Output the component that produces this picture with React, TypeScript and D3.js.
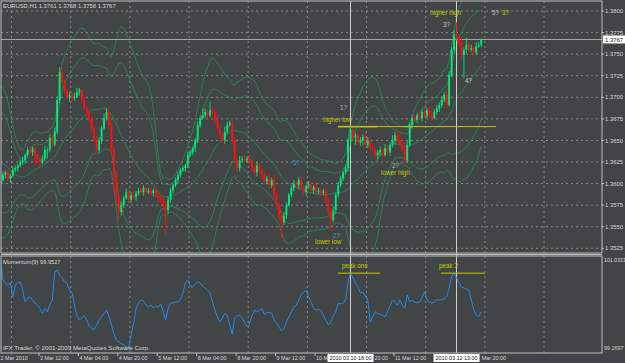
import React from "react";
import * as d3 from "d3";

const W = 625;
const H = 363;
const BASE = 1.35;

// closes before the first visible bar (2 Mar 2010 01:00-19:00), pips above 1.3500
const historyPips = [150, 160, 168, 175, 170, 160, 150, 140, 130, 120, 110, 100, 95, 92, 98, 94, 100, 102, 99];
// hourly closes from 2 Mar 2010 20:00, pips above 1.3500
const closePips = [
  104, 110, 113, 106, 109, 116, 118, 121, 125, 127,
  133, 139, 136, 141, 133, 127, 124, 129, 139, 139,
  153, 145, 160, 197, 229, 218, 206, 200, 203, 199,
  201, 206, 208, 197, 187, 182, 174, 164, 150, 139,
  150, 164, 176, 183, 168, 139, 110, 81, 67, 75,
  83, 90, 81, 87, 84, 89, 92, 90, 95, 90,
  92, 89, 92, 87, 83, 81, 75, 69, 81, 92,
  98, 104, 110, 116, 118, 121, 133, 136, 141, 150,
  168, 176, 179, 183, 179, 185, 182, 174, 164, 156,
  150, 160, 168, 171, 150, 127, 118, 127, 129, 127,
  129, 125, 118, 113, 121, 116, 110, 102, 106, 98,
  104, 87, 75, 63, 55, 63, 75, 87, 95, 100,
  98, 104, 95, 90, 97, 99, 92, 96, 90, 92,
  89, 91, 81, 67, 58, 69, 87, 98, 106, 113,
  118, 150, 162, 153, 156, 148, 150, 154, 145, 150,
  141, 139, 133, 136, 139, 133, 141, 136, 145, 150,
  156, 150, 145, 139, 127, 145, 168, 176, 174, 179,
  176, 183, 179, 185, 181, 176, 183, 187, 191, 197,
  203, 191, 226, 255, 272, 269, 264, 249, 255, 261,
  255, 257, 252, 259, 261, 267,
];
const wickUpPips = [
  3, 4, 2, 3, 2, 4, 3, 2, 3, 4,
  2, 3, 4, 2, 3, 2, 3, 4, 5, 3,
  4, 3, 5, 4, 6, 5, 3, 4, 3, 2,
  4, 5, 3, 2, 4, 3, 2, 4, 3, 5,
  4, 3, 5, 4, 6, 3, 4, 5, 8, 4,
  3, 4, 2, 3, 4, 2, 3, 4, 3, 2,
  3, 4, 2, 3, 2, 4, 3, 5, 4, 3,
  2, 3, 4, 2, 3, 2, 4, 3, 2, 3,
  4, 3, 8, 4, 3, 10, 4, 3, 5, 4,
  3, 6, 4, 2, 3, 4, 3, 5, 3, 4,
  3, 4, 2, 3, 4, 3, 2, 4, 3, 5,
  3, 6, 4, 3, 5, 4, 3, 2, 3, 4,
  3, 4, 5, 3, 2, 4, 3, 2, 4, 3,
  2, 3, 4, 3, 5, 4, 3, 4, 3, 2,
  4, 3, 5, 4, 3, 6, 4, 3, 5, 4,
  3, 4, 2, 3, 4, 3, 5, 4, 3, 6,
  4, 5, 8, 6, 10, 4, 3, 4, 5, 3,
  4, 3, 5, 3, 4, 6, 3, 4, 3, 4,
  3, 5, 4, 3, 6, 15, 4, 6, 3, 8,
  3, 4, 3, 5, 3, 1,
];
const wickDnPips = [
  3, 2, 4, 3, 5, 2, 3, 4, 2, 3,
  4, 3, 2, 4, 12, 3, 4, 2, 3, 10,
  3, 4, 2, 3, 4, 3, 4, 2, 5, 3,
  3, 2, 4, 3, 2, 5, 3, 4, 3, 2,
  3, 4, 2, 3, 4, 5, 20, 6, 8, 4,
  3, 2, 4, 3, 2, 4, 3, 2, 4, 3,
  2, 3, 4, 3, 5, 4, 6, 28, 4, 3,
  3, 2, 4, 3, 2, 4, 3, 2, 3, 4,
  3, 4, 2, 3, 4, 2, 3, 4, 3, 5,
  3, 4, 3, 2, 4, 3, 5, 4, 3, 2,
  3, 2, 4, 3, 5, 3, 4, 2, 3, 4,
  3, 4, 5, 6, 18, 3, 4, 2, 3, 4,
  3, 4, 2, 3, 4, 3, 2, 4, 3, 2,
  4, 3, 5, 4, 12, 3, 4, 3, 2, 3,
  3, 4, 6, 4, 8, 3, 4, 5, 3, 4,
  3, 4, 3, 5, 4, 3, 2, 3, 4, 3,
  4, 3, 2, 3, 4, 3, 2, 4, 3, 4,
  3, 4, 2, 3, 4, 3, 2, 3, 4, 3,
  3, 4, 2, 3, 4, 3, 5, 4, 27, 4,
  3, 2, 4, 3, 2, 3,
];
// Momentum(9)
const momentum = [
  100.96, 100.57, 100.51, 100.47, 100.51, 100.24, 100.47, 100.51, 100.53, 100.37,
  100.14, 100.22, 100.24, 100.18, 100.12, 100.08, 100.02, 99.92, 100.02, 99.95,
  100.08, 100.18, 100.72, 100.76, 100.66, 100.61, 100.53, 100.51, 100.37, 100.33,
  100.08, 99.87, 99.79, 99.83, 99.87, 99.79, 99.67, 99.63, 99.6, 99.69,
  99.79, 99.85, 99.92, 99.98, 99.87, 99.69, 99.52, 99.4, 99.36, 99.33,
  99.31, 99.27, 99.25, 99.5, 99.73, 100.02, 100.12, 100.18, 100.16, 100.08,
  100.04, 100.08, 100.02, 100.06, 100.04, 100.1, 99.95, 99.79, 100.02, 100.12,
  100.12, 100.14, 100.14, 100.18, 100.32, 100.51, 100.57, 100.45, 100.43, 100.49,
  100.53, 100.51, 100.45, 100.41, 100.37, 100.32, 100.14, 99.98, 99.85, 99.75,
  99.83, 99.92, 99.88, 99.69, 99.52, 99.83, 99.88, 99.87, 99.83, 99.75,
  99.66, 99.71, 99.87, 99.98, 99.95, 99.98, 100.02, 99.9, 99.94, 99.94,
  99.92, 99.79, 99.73, 99.66, 99.58, 99.63, 99.75, 99.85, 99.95, 100.04,
  100.08, 100.18, 100.28, 100.34, 100.36, 100.24, 100.14, 100.02, 99.98, 100.0,
  99.98, 99.88, 99.79, 99.69, 99.75, 99.87, 99.95, 100.12, 100.1, 100.12,
  100.18, 100.53, 100.7, 100.61, 100.51, 100.43, 100.32, 100.33, 100.26, 100.18,
  99.75, 99.85, 99.95, 99.92, 99.9, 99.88, 99.85, 99.95, 100.06, 100.18,
  100.14, 100.08, 100.18, 100.08, 100.02, 100.28, 100.14, 100.18, 100.14, 100.12,
  100.14, 100.22, 100.34, 100.18, 100.14, 100.12, 100.14, 100.18, 100.18, 100.18,
  100.2, 100.24, 100.41, 100.63, 100.7, 100.61, 100.51, 100.43, 100.41, 100.39,
  100.37, 100.18, 99.98, 99.88, 99.86, 99.95,
];

const priceTicks = [1.38, 1.3775, 1.375, 1.3725, 1.37, 1.3675, 1.365, 1.3625, 1.36, 1.3575, 1.355, 1.3525];
// time labels as they appear (parts hidden under the cursor boxes are not drawn)
const timeLabelIdx = [0, 16, 32, 48, 64, 80, 96, 112, 128, 144, 160, 192];
const timeLabelText = [
  "2 Mar 2010", "3 Mar 12:00", "4 Mar 04:00", "4 Mar 20:00", "5 Mar 12:00", "8 Mar 04:00",
  "8 Mar 20:00", "9 Mar 12:00", "10 M", "20:00", "11 Mar 12:00", "Mar 20:00",
];
const timeLabelShift = [0, 0, 0, 0, 0, 0, 0, 0, 0, 19, 0, 8];
const gridIdx = [4.5, 28.5, 52.5, 76.5, 100.5, 124.5, 148.5, 172.5, 196.5, 220.5];
const markerIdx = [142, 185];
const markerText = ["2010.03.10 18:00", "2010.03.12 13:00"];
const lastPrice = 1.3767;
const supportPrice = 1.3666;
const momTop = 101.0333;
const momBottom = 99.1697;
const momLabel = "Momentum(9) 99.9527";
const header = "EURUSD,H1  1.3761 1.3768 1.3758 1.3767";

// annotations: [text, color, bar index, price]
const priceNotes: [string, string, number, number][] = [
  ["higher high", "#c8c800", 174.2, 1.37948],
  ["3?", "#c8c8c8", 179.5, 1.3782],
  ["5?", "#c8c8c8", 199.4, 1.37959],
  ["3?", "#c8c800", 203.4, 1.37959],
  ["4?", "#c8c8c8", 188.4, 1.37166],
  ["1?", "#b0b0b0", 137.7, 1.36847],
  ["higher low", "#c8c800", 130.8, 1.36708],
  ["2?", "#b0b0b0", 158.8, 1.36185],
  ["lower high", "#c8c800", 154.4, 1.36095],
  ["5?", "#30a0c8", 118.7, 1.36215],
  ["2?", "#30a0c8", 134.9, 1.35364],
  ["lower low", "#c8c800", 127.6, 1.353],
];
const momNotes: [string, number, number][] = [
  ["peak one", 138.5, 100.8],
  ["peak 2", 177.9, 100.8],
];
const momLines: [number, number, number][] = [
  [136.9, 154, 100.7],
  [178.7, 196.5, 100.7],
];

const BG = "#414545";
const FRAME = "#c0c0c0";
const GRID = "#9a9a9a";
const TXT = "#d8d8d8";
const BULL = "#00e878";
const BEAR = "#ff1010";
const BAND = "#2f8a5a";
const FONT = "'Liberation Sans', Arial, sans-serif";

export default function App() {
  const x = d3.scaleLinear().domain([0, 195]).range([0.5, 0.5 + 195 * 2.465]);
  const y = d3.scaleLinear().domain([1.3525, 1.38]).range([248.3, 11]);
  const ym = d3.scaleLinear().domain([momBottom, momTop]).range([352, 256]);
  const toP = (v: number) => BASE + v / 10000;

  const all = [...historyPips, ...closePips].map(toP);
  const off = historyPips.length;
  const bars = closePips.map((c, i) => {
    const close = toP(c);
    const open = all[off + i - 1];
    const high = Math.max(open, close) + wickUpPips[i] / 10000;
    const low = Math.min(open, close) - wickDnPips[i] / 10000;
    return { i, open, close, high, low };
  });

  const bands = closePips.map((_, i) => {
    const win = all.slice(off + i - 19, off + i + 1);
    const m = d3.mean(win) as number;
    const sd = Math.sqrt(d3.mean(win.map((v) => (v - m) * (v - m))) as number);
    return { i, m, sd };
  });
  const bandLine = (k: number) =>
    d3
      .line<{ i: number; m: number; sd: number }>()
      .x((d) => x(d.i))
      .y((d) => y(d.m + k * d.sd))(bands) as string;

  const momPath = d3
    .line<number>()
    .x((_, i) => x(i))
    .y((d) => ym(d))(momentum) as string;

  const plotR = 602;
  const mainTop = 1;
  const mainBot = 253;
  const momTopY = 256;
  const momBotY = 353;

  return (
    <svg
      width={W}
      height={H}
      style={{ position: "absolute", left: 0, top: 0, display: "block" }}
      fontFamily={FONT}
    >
      <rect x={0} y={0} width={W} height={H} fill={BG} />
      <defs>
        <clipPath id="mainClip">
          <rect x={1} y={mainTop} width={plotR - 1} height={mainBot - mainTop} />
        </clipPath>
        <clipPath id="momClip">
          <rect x={1} y={momTopY} width={plotR - 1} height={momBotY - momTopY} />
        </clipPath>
      </defs>

      {/* grid */}
      {gridIdx.map((g) => (
        <g key={"g" + g}>
          <line x1={x(g)} x2={x(g)} y1={mainTop} y2={mainBot} stroke={GRID} strokeWidth={0.8} strokeDasharray="2,3" />
          <line x1={x(g)} x2={x(g)} y1={momTopY} y2={momBotY} stroke={GRID} strokeWidth={0.8} strokeDasharray="2,3" />
        </g>
      ))}
      {priceTicks.map((p) => (
        <line key={"h" + p} x1={1} x2={plotR} y1={y(p)} y2={y(p)} stroke={GRID} strokeWidth={0.8} strokeDasharray="2,3" />
      ))}

      {/* Bollinger bands */}
      <g clipPath="url(#mainClip)" fill="none" stroke={BAND} strokeWidth={0.9} opacity={0.9}>
        {[-3, -2, 0, 2, 3].map((k) => (
          <path key={"b" + k} d={bandLine(k)} />
        ))}
      </g>

      {/* crosshair lines */}
      <line x1={1} x2={plotR} y1={y(lastPrice)} y2={y(lastPrice)} stroke="#a8a8a8" strokeWidth={1} />
      {markerIdx.map((m) => (
        <line key={"m" + m} x1={x(m)} x2={x(m)} y1={mainTop} y2={momBotY} stroke="#d0d0d0" strokeWidth={1} />
      ))}

      {/* candles */}
      <g clipPath="url(#mainClip)">
        {bars.map((b) => {
          const col = b.close >= b.open ? BULL : BEAR;
          const top = y(Math.max(b.open, b.close));
          const bot = y(Math.min(b.open, b.close));
          return (
            <g key={"c" + b.i}>
              <line x1={x(b.i)} x2={x(b.i)} y1={y(b.high)} y2={y(b.low)} stroke={col} strokeWidth={0.9} />
              <rect x={x(b.i) - 0.95} y={top} width={1.9} height={Math.max(0.8, bot - top)} fill={col} />
            </g>
          );
        })}
      </g>

      {/* support line */}
      <line x1={x(136.9)} x2={x(152.7)} y1={y(supportPrice)} y2={y(supportPrice)} stroke="#8a8a20" strokeWidth={2} />
      <line x1={x(136.9)} x2={x(201)} y1={y(supportPrice)} y2={y(supportPrice)} stroke="#c8c800" strokeWidth={1} />

      {/* annotations */}
      {priceNotes.map(([t, c, i, p], k) => (
        <text key={"n" + k} x={x(i)} y={y(p)} fill={c} fontSize={6.3}>
          {t}
        </text>
      ))}

      {/* momentum */}
      <g clipPath="url(#momClip)">
        <path d={momPath} fill="none" stroke="#1e8cf0" strokeWidth={1} />
      </g>
      {momLines.map(([a, b, v], k) => (
        <line key={"ml" + k} x1={x(a)} x2={x(b)} y1={ym(v)} y2={ym(v)} stroke="#c8c800" strokeWidth={1} />
      ))}
      {momNotes.map(([t, i, v], k) => (
        <text key={"mn" + k} x={x(i)} y={ym(v)} fill="#c8c800" fontSize={6.3}>
          {t}
        </text>
      ))}

      {/* frames */}
      <rect x={1} y={mainTop} width={plotR - 1} height={mainBot - mainTop} fill="none" stroke={FRAME} strokeWidth={1} />
      <rect x={1} y={momTopY} width={plotR - 1} height={momBotY - momTopY} fill="none" stroke={FRAME} strokeWidth={1} />
      <line x1={1} x2={plotR} y1={254.5} y2={254.5} stroke={FRAME} strokeWidth={1} />

      {/* texts */}
      <text x={3} y={8} fill={TXT} fontSize={5.9}>
        {header}
      </text>
      <text x={3} y={264} fill={TXT} fontSize={5.7}>
        {momLabel}
      </text>
      <text x={3} y={350} fill={TXT} fontSize={6.2}>
        IFX Trader, © 2001-2009 MetaQuotes Software Corp.
      </text>

      {/* price axis */}
      {priceTicks.map((p) => (
        <g key={"pt" + p}>
          <line x1={plotR} x2={plotR + 2} y1={y(p)} y2={y(p)} stroke={FRAME} />
          <text x={605} y={y(p) + 2.1} fill={TXT} fontSize={5.9}>
            {p.toFixed(4)}
          </text>
        </g>
      ))}
      <rect x={603} y={y(lastPrice) - 4} width={22} height={8} fill="#ffffff" />
      <text x={605} y={y(lastPrice) + 2.1} fill="#202020" fontSize={5.9}>
        {lastPrice.toFixed(4)}
      </text>
      <text x={604} y={262} fill={TXT} fontSize={5.2}>
        {momTop.toFixed(4)}
      </text>
      <text x={604} y={350} fill={TXT} fontSize={5.4}>
        {momBottom.toFixed(4)}
      </text>

      {/* time axis */}
      {timeLabelIdx.map((ti, k) => (
        <g key={"tl" + ti}>
          {timeLabelShift[k] === 0 && (
            <line x1={x(ti) - 1} x2={x(ti) - 1} y1={momBotY} y2={momBotY + 3} stroke={FRAME} />
          )}
          <text x={x(ti) + timeLabelShift[k]} y={360} fill={TXT} fontSize={5.4}>
            {timeLabelText[k]}
          </text>
        </g>
      ))}
      {markerIdx.map((m, k) => (
        <g key={"mk" + m}>
          <rect x={x(m) - 23} y={354} width={46} height={8} fill="#ffffff" />
          <text x={x(m)} y={360} fill="#202020" fontSize={5.4} textAnchor="middle">
            {markerText[k]}
          </text>
        </g>
      ))}
    </svg>
  );
}
